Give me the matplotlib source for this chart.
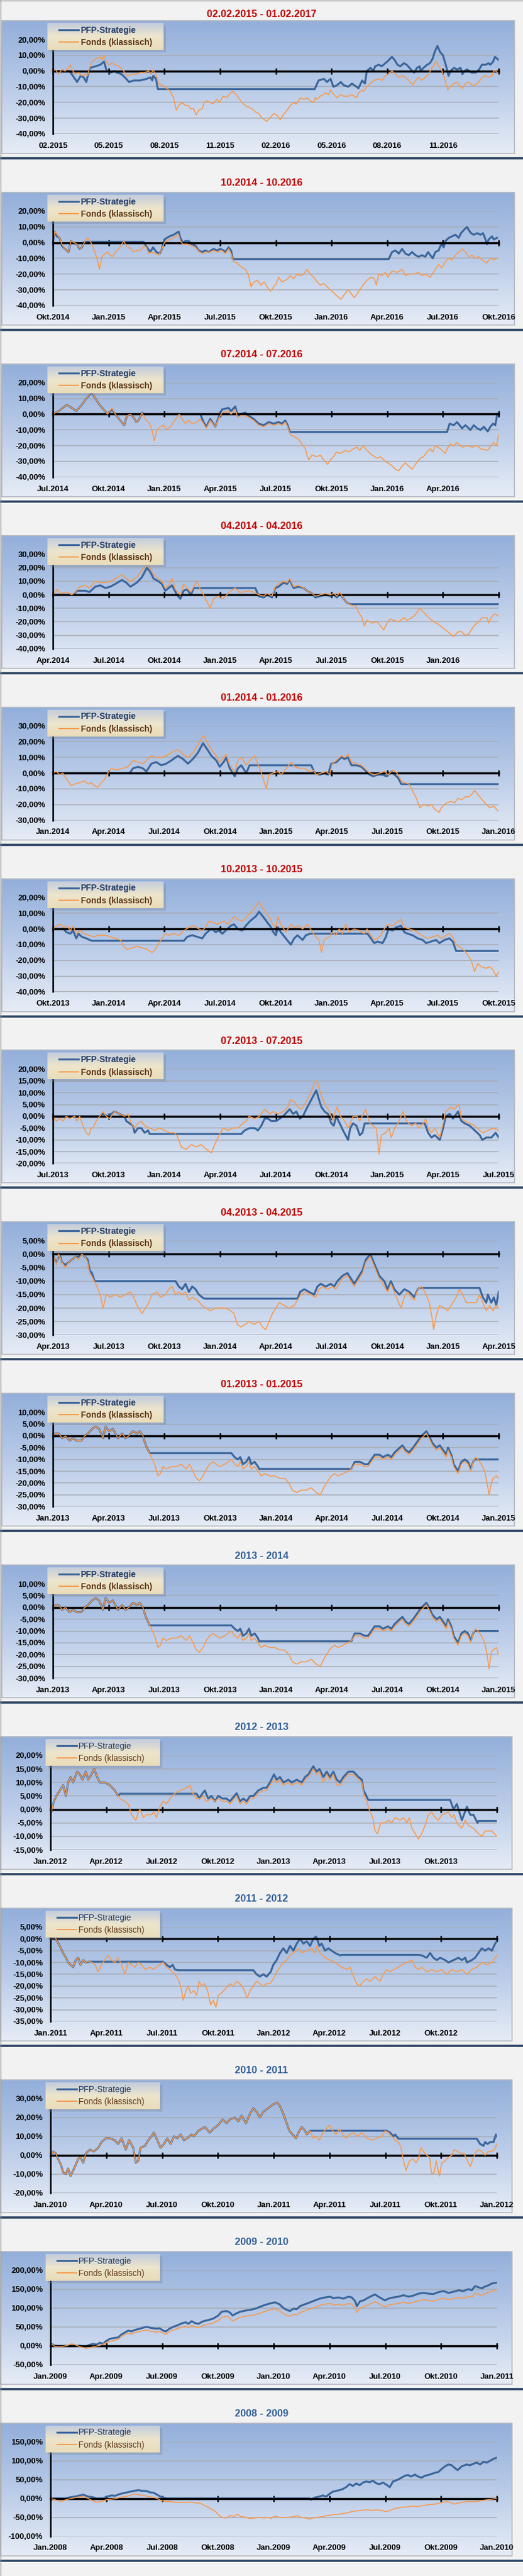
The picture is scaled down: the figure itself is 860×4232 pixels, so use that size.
import numpy as np
import matplotlib.pyplot as plt
from matplotlib.colors import to_rgb
from matplotlib.patches import Rectangle
from matplotlib.lines import Line2D

# ---- data: (month since start of window, performance in %) pairs ----
p01_pfp = [0,0, 0.9,0, 1.3,-7, 1.5,-3, 1.65,-4, 1.8,-7, 1.9,-2, 2.0,2, 2.3,3, 2.55,4, 2.75,6, 2.9,0, 3.1,-1, 3.3,0, 3.45,-1, 3.7,-2, 3.95,-5, 4.1,-7, 4.35,-6, 4.7,-6, 5.05,-5, 5.25,-4, 5.35,-6, 5.4,-3, 5.55,-5, 5.65,-11.5, 14.1,-11.5, 14.3,-6, 14.6,-5, 14.75,-7, 14.95,-5, 15.1,-10, 15.3,-9, 15.5,-7, 15.65,-9, 15.9,-10, 16.1,-8, 16.35,-10, 16.45,-11, 16.65,-6, 16.8,-8, 16.9,0, 17.1,2, 17.25,0, 17.35,3, 17.55,4, 17.7,3, 18.0,6, 18.25,9, 18.4,7, 18.55,4, 18.7,3, 18.9,5, 19.05,4, 19.35,0, 19.45,-1, 19.6,2, 19.75,3, 19.8,0, 19.95,2, 20.15,4, 20.3,5, 20.45,8, 20.55,12, 20.7,16, 20.85,12, 21.0,10, 21.15,4, 21.3,-3, 21.4,0, 21.6,2, 21.75,1, 21.95,2, 22.05,-2, 22.15,0, 22.3,1, 22.55,-1, 22.75,-1, 22.95,1, 23.1,4, 23.3,4, 23.45,5, 23.55,4, 23.7,6, 23.8,9, 23.9,8, 24.0,7]
p01_fonds = [0,0, 0.13,1, 0.31,-2, 0.48,1, 0.66,0, 0.84,2, 0.93,4, 1.08,0, 1.2,-2, 1.38,-1, 1.56,-3, 1.74,-2, 1.87,-3, 1.97,2, 2.1,6, 2.37,8, 2.55,9, 2.64,7, 2.76,10, 2.87,6, 3.0,4, 3.18,5, 3.36,4, 3.54,3, 3.66,2, 3.81,0, 3.99,-3, 4.25,-2, 4.52,-2, 4.7,-1, 4.92,-1, 5.15,0, 5.28,-2, 5.39,1, 5.48,-1, 5.57,-3, 5.69,-8, 5.87,-9, 6.01,-10, 6.23,-12, 6.32,-13, 6.5,-17, 6.64,-25, 6.77,-22, 6.95,-20, 7.13,-22, 7.31,-22, 7.4,-24, 7.58,-24, 7.72,-28, 7.85,-25, 8.03,-24, 8.15,-20, 8.29,-19, 8.47,-20, 8.62,-21, 8.83,-18, 8.98,-20, 9.16,-16, 9.37,-17, 9.55,-14, 9.69,-13, 9.87,-15, 10.0,-17, 10.18,-20, 10.36,-22, 10.54,-23, 10.72,-24, 10.9,-26, 11.08,-27, 11.26,-30, 11.53,-32, 11.67,-30, 11.89,-27, 12.06,-28, 12.24,-31, 12.39,-28, 12.6,-25, 12.78,-22, 12.96,-20, 13.11,-21, 13.32,-17, 13.5,-18, 13.68,-17, 13.86,-19, 14.04,-20, 14.13,-17, 14.22,-18, 14.4,-16, 14.67,-14, 14.85,-15, 14.94,-12, 15.12,-15, 15.3,-17, 15.48,-15, 15.66,-16, 15.92,-16, 16.1,-15, 16.34,-17, 16.46,-14, 16.64,-12, 16.73,-13, 16.91,-10, 17.09,-8, 17.27,-6, 17.54,-5, 17.72,-6, 17.9,-3, 18.26,0, 18.44,-2, 18.62,-4, 18.8,-3, 18.98,-4, 19.16,-6, 19.39,-9, 19.52,-6, 19.69,-4, 19.84,-6, 20.05,-4, 20.23,-2, 20.41,2, 20.65,6, 20.77,3, 20.95,0, 21.1,-5, 21.26,-12, 21.4,-10, 21.58,-8, 21.76,-7, 21.94,-10, 22.05,-11, 22.21,-8, 22.39,-7, 22.57,-9, 22.75,-9, 22.93,-7, 23.11,-4, 23.29,-3, 23.46,-4, 23.64,-3, 23.73,0, 23.86,0, 24.0,-2]

p02_pfp = [0,0, 0.09,7, 0.22,4, 0.36,3, 0.48,-2, 0.66,-4, 0.84,-6, 0.97,1, 1.11,0, 1.29,-1, 1.44,-4, 1.56,-3, 1.69,0.5, 4.88,0.5, 5.06,-3, 5.24,-6, 5.39,-3, 5.57,-6, 5.75,-7, 5.87,-4, 6.0,2, 6.14,3, 6.28,4, 6.5,5, 6.77,7, 6.86,3, 7.0,0, 7.13,1, 7.31,1, 7.49,-1, 7.67,-2, 7.85,-5, 8.03,-6, 8.2,-5, 8.38,-6, 8.65,-4, 8.83,-5, 9.01,-4, 9.19,-5, 9.28,-6, 9.46,-3, 9.59,-5, 9.69,-10.5, 18.08,-10.5, 18.26,-6, 18.44,-5, 18.62,-7, 18.8,-4, 18.98,-7, 19.16,-8, 19.34,-6, 19.52,-8, 19.69,-9, 19.87,-8, 20.05,-9, 20.2,-6, 20.32,-8, 20.45,-10, 20.59,-6, 20.77,-5, 20.9,-1, 21.04,-3, 21.13,1, 21.31,3, 21.49,4, 21.67,5, 21.85,3, 21.97,6, 22.12,8, 22.3,10, 22.39,8, 22.51,6, 22.66,5, 22.84,6, 23.02,5, 23.16,6, 23.29,2, 23.37,-1, 23.46,2, 23.64,4, 23.73,2, 23.91,3]
p02_fonds = [0,0, 0.09,7, 0.25,5, 0.36,3, 0.48,-1, 0.66,-4, 0.84,-6, 0.97,1, 1.15,0, 1.29,-1, 1.47,-4, 1.6,-2, 1.74,1, 1.87,3, 2.05,0, 2.23,-5, 2.37,-10, 2.5,-17, 2.64,-9, 2.82,-7, 2.94,-6, 3.09,-8, 3.21,-9, 3.36,-6, 3.54,-4, 3.66,-2, 3.81,1, 3.95,-2, 4.08,-3, 4.2,-4, 4.34,-6, 4.52,-5, 4.7,-5, 4.92,-2, 5.03,-3, 5.15,-7, 5.33,-6, 5.51,-7, 5.69,-8, 5.87,-4, 6.0,0, 6.14,1, 6.28,2, 6.5,3, 6.77,5, 6.86,1, 7.0,-1, 7.22,-1, 7.49,-2, 7.67,-3, 7.9,-6, 8.08,-7, 8.26,-6, 8.47,-6, 8.65,-5, 8.87,-6, 9.1,-5, 9.28,-7, 9.46,-4, 9.59,-7, 9.73,-12, 9.91,-13, 10.09,-15, 10.36,-17, 10.54,-21, 10.66,-28, 10.84,-25, 11.02,-24, 11.2,-27, 11.38,-25, 11.53,-28, 11.71,-31, 11.89,-28, 12.03,-26, 12.15,-22, 12.33,-25, 12.51,-24, 12.64,-23, 12.78,-21, 12.96,-23, 13.14,-20, 13.32,-21, 13.5,-20, 13.68,-17, 13.86,-20, 14.04,-22, 14.22,-25, 14.4,-27, 14.58,-26, 14.76,-28, 14.94,-30, 15.12,-32, 15.3,-34, 15.51,-36, 15.69,-33, 15.92,-30, 16.1,-33, 16.23,-35, 16.41,-32, 16.64,-28, 16.82,-25, 17.0,-23, 17.18,-22, 17.31,-23, 17.41,-27, 17.54,-20, 17.72,-21, 17.9,-19, 18.04,-22, 18.26,-18, 18.53,-19, 18.8,-17, 18.98,-21, 19.16,-20, 19.43,-20, 19.69,-19, 19.87,-21, 20.05,-20, 20.32,-22, 20.59,-17, 20.77,-14, 20.95,-16, 21.13,-12, 21.31,-10, 21.49,-11, 21.67,-8, 21.85,-6, 22.03,-4, 22.21,-6, 22.39,-9, 22.57,-8, 22.75,-10, 22.93,-9, 23.11,-11, 23.34,-13, 23.55,-10, 23.73,-11, 23.91,-10]

p03_pfp = [0,0, 0.31,2, 0.75,6, 1.02,4, 1.26,2, 1.56,6, 1.8,10, 2.1,14, 2.28,10, 2.51,6, 2.73,3, 2.94,0, 3.18,3, 3.36,0, 3.63,-4, 3.84,-7, 3.99,-1, 4.17,0, 4.34,-2, 4.49,-5, 4.61,-4, 4.79,1, 4.92,0, 7.94,0, 8.11,-5, 8.26,-8, 8.47,-3, 8.74,-8, 8.92,-2, 9.1,3, 9.46,4, 9.59,2, 9.82,5, 9.95,-1, 10.09,0, 10.36,1, 10.54,-1, 10.81,-3, 11.08,-6, 11.35,-7, 11.62,-5, 11.89,-6, 12.15,-5, 12.33,-6, 12.51,-4, 12.64,-7, 12.75,-11.3, 21.22,-11.3, 21.36,-6, 21.58,-7, 21.76,-5, 22.03,-9, 22.21,-7, 22.48,-10, 22.66,-7, 22.84,-9, 23.02,-10, 23.2,-8, 23.41,-11, 23.55,-8, 23.7,-6, 23.82,-7, 23.91,-1, 24.0,1]
p03_fonds = [0,0, 0.31,2, 0.75,6, 1.02,4, 1.26,2, 1.56,6, 1.8,10, 2.1,15, 2.28,10, 2.51,6, 2.73,3, 2.94,0, 3.18,4, 3.36,0, 3.63,-4, 3.84,-7, 3.99,-1, 4.17,0, 4.34,-2, 4.49,-5, 4.61,-4, 4.79,1, 4.97,-3, 5.21,-6, 5.33,-10, 5.46,-17, 5.6,-10, 5.78,-8, 5.96,-7, 6.1,-10, 6.32,-8, 6.5,-5, 6.68,-2, 6.8,0, 6.95,-3, 7.13,-6, 7.31,-4, 7.49,-6, 7.76,-5, 7.94,-3, 8.11,-6, 8.26,-9, 8.47,-4, 8.74,-8, 8.92,-3, 9.1,1, 9.46,2, 9.59,0, 9.82,3, 9.95,-2, 10.09,-1, 10.36,-1, 10.54,-2, 10.81,-4, 11.08,-7, 11.35,-8, 11.62,-6, 11.89,-7, 12.15,-6, 12.33,-7, 12.51,-5, 12.64,-8, 12.78,-13, 12.96,-14, 13.23,-16, 13.41,-19, 13.59,-22, 13.68,-26, 13.77,-29, 13.95,-26, 14.22,-27, 14.4,-26, 14.58,-29, 14.79,-32, 14.94,-29, 15.12,-27, 15.26,-24, 15.48,-25, 15.75,-23, 15.92,-24, 16.19,-22, 16.37,-21, 16.52,-23, 16.7,-20, 16.91,-23, 17.18,-26, 17.45,-28, 17.63,-27, 17.9,-30, 18.17,-32, 18.44,-35, 18.62,-36, 18.8,-33, 18.98,-31, 19.16,-33, 19.34,-35, 19.57,-31, 19.78,-28, 19.96,-27, 20.14,-24, 20.32,-22, 20.45,-24, 20.59,-20, 20.86,-22, 21.13,-25, 21.22,-22, 21.4,-19, 21.58,-20, 21.76,-18, 22.03,-21, 22.3,-20, 22.57,-21, 22.84,-20, 23.02,-22, 23.41,-23, 23.64,-19, 23.73,-18, 23.88,-20, 24.0,-13]

p04_pfp = [0,0, 1.11,0, 1.29,3, 1.74,3, 1.97,2, 2.28,6, 2.55,7, 2.82,5, 3.09,6, 3.36,8, 3.72,11, 3.95,9, 4.17,6, 4.52,9, 4.79,13, 5.06,20, 5.24,17, 5.42,12, 5.69,10, 5.87,8, 6.05,3, 6.23,5, 6.41,7, 6.68,0, 6.86,-3, 7.04,3, 7.22,4, 7.43,0, 7.58,5, 10.9,5, 11.08,-1, 11.35,-2, 11.53,0, 11.8,-2, 11.97,5, 12.15,6, 12.42,9, 12.6,8, 12.75,11, 12.96,5, 13.23,6, 13.5,5, 13.68,3, 13.95,1, 14.13,-2, 14.4,-1, 14.67,0, 14.94,-1, 15.12,0, 15.3,-2, 15.44,1, 15.66,-3, 15.83,-6, 16.01,-7, 24.0,-7]
p04_fonds = [0,0, 0.13,2, 0.22,4, 0.39,1, 0.75,2, 1.02,0, 1.2,2, 1.47,6, 1.74,7, 1.97,5, 2.28,10, 2.55,9, 2.82,9, 3.09,10, 3.36,12, 3.72,15, 3.95,12, 4.17,10, 4.52,13, 4.79,18, 5.06,24, 5.24,20, 5.42,15, 5.69,12, 5.87,10, 6.05,5, 6.23,7, 6.41,12, 6.59,4, 6.86,0, 7.04,8, 7.22,5, 7.43,2, 7.58,6, 7.76,10, 7.94,4, 8.11,0, 8.29,-5, 8.47,-10, 8.65,-3, 8.92,-1, 9.16,-3, 9.37,0, 9.55,3, 9.82,5, 10.0,2, 10.27,2, 10.54,3, 10.81,2, 11.08,0, 11.35,-1, 11.53,1, 11.8,-1, 11.97,6, 12.15,8, 12.42,10, 12.6,9, 12.75,12, 12.96,6, 13.23,7, 13.5,5, 13.68,3, 13.95,1, 14.13,-1, 14.4,0, 14.67,1, 14.94,0, 15.12,1, 15.3,-1, 15.44,2, 15.66,-3, 15.83,-6, 16.1,-8, 16.28,-8, 16.46,-13, 16.64,-17, 16.77,-23, 16.91,-19, 17.18,-21, 17.45,-20, 17.63,-23, 17.81,-26, 17.99,-21, 18.17,-18, 18.35,-19, 18.62,-20, 18.89,-17, 19.07,-19, 19.43,-16, 19.61,-13, 19.75,-10, 19.96,-13, 20.23,-17, 20.5,-20, 20.77,-22, 21.04,-25, 21.31,-28, 21.58,-31, 21.76,-28, 21.94,-27, 22.21,-30, 22.39,-29, 22.57,-25, 22.75,-22, 22.93,-20, 23.11,-17, 23.38,-17, 23.46,-21, 23.64,-16, 23.82,-14, 24.0,-16]

p05_pfp = [0,0, 4.13,0, 4.31,3, 4.58,4, 4.85,3, 5.03,1, 5.3,6, 5.57,7, 5.83,5, 6.1,6, 6.37,8, 6.73,11, 7.0,9, 7.27,6, 7.54,9, 7.81,13, 8.08,19, 8.26,16, 8.53,11, 8.8,8, 8.98,4, 9.19,7, 9.34,10, 9.52,3, 9.79,-2, 9.96,3, 10.14,5, 10.41,0, 10.59,5, 13.91,5, 14.09,0, 14.36,-1, 14.63,0, 14.81,-1, 14.99,6, 15.26,7, 15.53,10, 15.71,9, 15.89,10, 16.07,5, 16.34,5, 16.61,4, 16.79,2, 17.06,-1, 17.24,-2, 17.5,-1, 17.77,-1, 17.95,-2, 18.22,1, 18.4,-1, 18.58,-3, 18.76,-7, 24.0,-7]
p05_fonds = [0,0, 0.18,1, 0.36,-1, 0.54,0, 0.63,-2, 0.81,-5, 0.99,-8, 1.17,-7, 1.44,-6, 1.71,-5, 1.89,-7, 2.06,-6, 2.24,-8, 2.42,-9, 2.6,-6, 2.78,-4, 2.96,0, 3.14,3, 3.41,2, 3.77,3, 4.04,4, 4.31,8, 4.58,7, 4.85,6, 5.3,11, 5.57,10, 5.83,10, 6.1,11, 6.37,13, 6.73,15, 7.0,12, 7.27,10, 7.54,13, 7.81,18, 8.11,24, 8.29,20, 8.53,15, 8.8,11, 8.98,7, 9.19,10, 9.34,12, 9.52,5, 9.79,1, 9.96,8, 10.14,10, 10.41,5, 10.68,9, 10.86,11, 11.13,3, 11.31,-3, 11.49,-10, 11.63,-1, 11.85,0, 12.12,1, 12.3,-1, 12.57,3, 12.84,7, 13.02,4, 13.29,3, 13.55,3, 13.82,1, 14.0,2, 14.18,-1, 14.45,0, 14.72,1, 14.9,-1, 15.04,6, 15.26,8, 15.53,11, 15.71,10, 15.89,12, 16.07,7, 16.34,6, 16.61,5, 16.79,3, 17.06,0, 17.32,-1, 17.59,0, 17.86,1, 18.04,-1, 18.31,2, 18.53,0, 18.76,-5, 18.94,-6, 19.17,-7, 19.39,-12, 19.57,-16, 19.75,-22, 19.96,-20, 20.2,-21, 20.38,-20, 20.56,-23, 20.79,-25, 20.92,-22, 21.18,-19, 21.45,-18, 21.63,-19, 21.81,-16, 21.99,-17, 22.23,-15, 22.41,-15, 22.59,-13, 22.71,-11, 22.89,-14, 23.12,-17, 23.34,-20, 23.52,-22, 23.73,-21, 23.96,-24]

p06_pfp = [0,0, 0.58,0, 0.72,-2, 0.94,-3, 1.08,-1, 1.26,-6, 1.38,-3, 1.56,-5, 1.8,-6, 1.98,-7, 2.1,-7.5, 7.05,-7.5, 7.23,-5, 7.5,-4, 7.77,-5, 8.04,-6, 8.22,-3, 8.4,-1, 8.58,0, 8.76,-2, 8.94,-1, 9.12,-3, 9.3,-1, 9.57,2, 9.75,3, 9.96,0, 10.2,-1, 10.38,2, 10.61,5, 10.92,8, 11.1,11, 11.37,7, 11.55,4, 11.69,2, 11.87,-2, 12.0,-4, 12.12,1, 12.27,-2, 12.54,-6, 12.81,-10, 12.99,-6, 13.17,-4, 13.44,-7, 13.62,-4, 13.85,-3, 16.94,-3, 17.12,-6, 17.3,-9, 17.48,-8, 17.75,-9, 17.93,-5, 18.06,0, 18.29,-1, 18.47,1, 18.74,2, 18.92,-2, 19.1,-3, 19.37,-4, 19.64,-6, 19.91,-7, 20.09,-9, 20.36,-8, 20.63,-7, 20.81,-9, 21.08,-7, 21.35,-6, 21.53,-8, 21.71,-14, 24.0,-14]
p06_fonds = [0,0, 0.22,2, 0.4,3, 0.58,1, 0.76,2, 0.94,-1, 1.08,2, 1.26,-3, 1.47,-1, 1.65,-3, 1.92,-4, 2.19,-5, 2.46,-4, 2.82,-4, 3.09,-5, 3.36,-6, 3.63,-7, 3.81,-11, 3.99,-13, 4.26,-12, 4.53,-11, 4.8,-12, 5.07,-13, 5.34,-15, 5.52,-13, 5.7,-9, 5.88,-6, 6.06,-3, 6.24,-4, 6.51,-3, 6.78,-4, 7.05,-1, 7.32,1, 7.59,2, 7.86,0, 8.04,-1, 8.22,1, 8.4,5, 8.67,4, 8.85,3, 9.03,4, 9.21,5, 9.39,3, 9.57,5, 9.75,8, 9.96,6, 10.2,5, 10.38,7, 10.61,10, 10.83,13, 11.1,17, 11.37,12, 11.55,9, 11.69,7, 11.82,3, 12.0,1, 12.12,8, 12.27,3, 12.54,-2, 12.81,3, 12.99,1, 13.26,2, 13.44,0, 13.71,3, 13.97,-2, 14.15,-5, 14.33,-7, 14.46,-15, 14.6,-7, 14.87,-5, 15.05,-2, 15.23,-4, 15.41,0, 15.59,-3, 15.77,3, 15.95,-2, 16.22,0, 16.49,-1, 16.76,-3, 16.91,0, 17.12,-4, 17.3,-7, 17.48,-6, 17.66,-4, 17.84,0, 18.02,3, 18.29,2, 18.47,4, 18.74,6, 18.92,1, 19.19,0, 19.46,-1, 19.73,-3, 20.0,-5, 20.18,-6, 20.45,-5, 20.72,-4, 20.9,-6, 21.17,-4, 21.35,-3, 21.53,-5, 21.71,-10, 21.98,-12, 22.25,-15, 22.52,-20, 22.7,-27, 22.88,-22, 23.06,-24, 23.33,-25, 23.51,-24, 23.69,-26, 23.87,-30, 24.0,-27]

p07_pfp = [0,0, 2.51,0, 2.69,1, 2.96,0, 3.32,2, 3.59,1, 3.86,0, 3.95,-2, 4.13,-3, 4.31,-4, 4.4,-7, 4.58,-5, 4.76,-5, 4.94,-7, 5.12,-6, 5.21,-7.5, 10.14,-7.5, 10.32,-6, 10.59,-5, 10.86,-5, 11.04,-6, 11.22,-4, 11.4,-1, 11.58,-1, 11.76,-2, 12.03,-2, 12.21,-1, 12.39,0, 12.75,3, 12.93,1, 13.11,2, 13.29,-1, 13.46,0, 13.64,3, 13.91,7, 14.18,11, 14.33,7, 14.45,4, 14.63,2, 14.81,1, 14.99,-3, 15.12,-4, 15.26,0, 15.44,-3, 15.62,-6, 15.89,-10, 16.01,-5, 16.16,-3, 16.34,-4, 16.52,-8, 16.66,-7, 16.79,-3, 20.02,-3, 20.2,-7, 20.38,-9, 20.56,-8, 20.83,-10, 21.01,-5, 21.15,0, 21.36,1, 21.54,-1, 21.81,2, 21.99,-2, 22.17,-3, 22.44,-4, 22.71,-6, 22.98,-8, 23.12,-10, 23.34,-9, 23.61,-9, 23.84,-7, 24.0,-9]
p07_fonds = [0,0, 0.18,-2, 0.36,-1, 0.54,-2, 0.72,0, 0.9,-1, 1.17,0, 1.29,-2, 1.44,0, 1.62,-4, 1.8,-7, 1.94,-8, 2.06,-5, 2.15,-5, 2.33,-2, 2.51,0, 2.69,2, 2.87,0, 3.05,-1, 3.32,2, 3.59,1, 3.86,0, 4.04,1, 4.22,-3, 4.4,-5, 4.58,-3, 4.76,-2, 4.94,-4, 5.21,-5, 5.48,-6, 5.75,-5, 6.01,-6, 6.28,-7, 6.55,-7, 6.73,-9, 6.91,-13, 7.18,-14, 7.45,-12, 7.72,-13, 7.99,-12, 8.26,-14, 8.44,-15, 8.53,-15.5, 8.71,-12, 8.89,-9, 9.16,-5, 9.43,-6, 9.69,-5, 9.96,-5, 10.23,-3, 10.41,-2, 10.56,0, 10.86,-1, 11.13,0, 11.4,3, 11.67,1, 11.85,2, 12.12,1, 12.39,2, 12.66,4, 12.78,7, 13.02,6, 13.2,4, 13.38,3, 13.55,5, 13.82,9, 14.09,14, 14.22,15, 14.4,10, 14.54,7, 14.72,4, 14.9,2, 15.08,-2, 15.17,1, 15.3,4, 15.48,0, 15.71,-2, 15.89,-5, 16.01,-3, 16.16,0, 16.37,0, 16.52,-2, 16.84,3, 17.06,-3, 17.24,-4, 17.41,-5, 17.56,-16, 17.68,-8, 17.92,-7, 18.1,-5, 18.22,-9, 18.4,-5, 18.58,-3, 18.85,2, 19.03,-2, 19.3,-4, 19.53,-3, 19.71,-5, 19.93,-3, 20.07,-1, 20.2,-5, 20.38,-7, 20.56,-5, 20.83,-9, 21.01,-3, 21.15,2, 21.45,4, 21.58,3, 21.87,5, 21.99,-1, 22.17,-2, 22.44,-3, 22.71,-4, 22.98,-6, 23.16,-7, 23.43,-6, 23.7,-5, 24.0,-6]

p08_pfp = [0,0, 0.09,-2, 0.18,-3, 0.31,-1, 0.36,0, 0.49,-3, 0.67,-4, 0.85,-3, 1.03,-2, 1.21,-1, 1.38,-1, 1.56,0, 1.74,-1, 1.87,-2, 1.98,-6, 2.1,-7, 2.25,-10, 6.6,-10, 6.78,-12, 6.96,-13, 7.14,-11, 7.32,-14, 7.5,-12, 7.68,-13, 7.86,-15, 8.04,-16, 8.17,-16.5, 13.17,-16.5, 13.31,-14, 13.53,-13, 13.8,-14, 14.06,-15, 14.24,-12, 14.42,-11, 14.69,-12, 14.96,-11, 15.14,-12, 15.32,-10, 15.59,-8, 15.86,-7, 16.04,-9, 16.22,-11, 16.49,-8, 16.67,-6, 16.85,-2, 17.09,0, 17.21,-2, 17.39,-5, 17.57,-8, 17.84,-10, 18.02,-13, 18.2,-10, 18.38,-13, 18.65,-15, 18.92,-13, 19.19,-14, 19.46,-16, 19.64,-13, 19.73,-12.5, 22.97,-12.5, 23.15,-16, 23.33,-18, 23.42,-15, 23.6,-18, 23.74,-16, 23.87,-19, 24.0,-14]
p08_fonds = [0,0, 0.09,-2, 0.18,-4, 0.31,0, 0.49,-3, 0.67,-5, 0.85,-3, 1.03,-2, 1.21,-1, 1.38,-2, 1.56,0, 1.74,-1, 1.87,-3, 1.98,-7, 2.16,-9, 2.37,-12, 2.55,-15, 2.7,-20, 2.88,-15, 3.09,-16, 3.36,-15, 3.63,-16, 3.9,-15, 4.17,-14, 4.35,-16, 4.53,-19, 4.8,-22, 4.98,-20, 5.16,-18, 5.34,-15, 5.61,-14, 5.79,-16, 6.06,-15, 6.24,-13, 6.42,-12, 6.6,-15, 6.78,-14, 6.96,-15, 7.14,-14, 7.32,-17, 7.5,-16, 7.77,-17, 8.04,-19, 8.22,-20, 8.49,-21, 8.76,-20, 9.03,-20, 9.3,-20, 9.57,-21, 9.75,-22, 9.93,-26, 10.11,-27, 10.38,-26, 10.56,-25, 10.83,-26, 11.1,-25, 11.28,-27, 11.46,-28, 11.64,-25, 11.82,-22, 12.0,-20, 12.18,-18, 12.45,-19, 12.72,-20, 12.99,-19, 13.17,-17, 13.35,-15, 13.62,-14, 13.88,-15, 14.15,-16, 14.33,-13, 14.51,-12, 14.78,-13, 15.05,-12, 15.23,-13, 15.41,-11, 15.59,-9, 15.86,-8, 16.04,-10, 16.22,-12, 16.49,-9, 16.67,-7, 16.85,-3, 17.09,-1, 17.21,-3, 17.39,-6, 17.57,-9, 17.84,-12, 18.02,-14, 18.2,-11, 18.38,-14, 18.56,-17, 18.74,-20, 18.92,-16, 19.1,-14, 19.28,-16, 19.46,-17, 19.64,-13, 19.86,-12, 20.09,-15, 20.27,-18, 20.4,-23, 20.5,-28, 20.63,-23, 20.81,-19, 21.08,-20, 21.26,-21, 21.44,-19, 21.71,-16, 21.89,-13, 22.07,-15, 22.25,-18, 22.52,-18, 22.79,-18, 22.97,-15, 23.15,-18, 23.33,-21, 23.51,-19, 23.69,-21, 23.87,-19, 24.0,-20]

p09_pfp = [0,0, 0.14,1, 0.32,1, 0.5,-1, 0.68,0, 0.9,-2, 1.08,-1, 1.29,-2, 1.53,-2, 1.71,0, 1.89,1, 2.12,3, 2.3,4, 2.48,3, 2.6,1, 2.69,-1, 2.84,4, 3.02,2, 3.23,3, 3.5,-1, 3.73,1, 3.91,-1, 4.09,0, 4.31,2, 4.52,1, 4.67,2, 4.85,0, 4.96,-3, 5.06,-5, 5.21,-7.3, 9.61,-7.3, 9.78,-9, 9.96,-10, 10.09,-9, 10.23,-12, 10.41,-11, 10.56,-9, 10.68,-12, 10.86,-11, 11.04,-13, 11.1,-14, 16.07,-14, 16.25,-11, 16.52,-11, 16.79,-12, 16.97,-12, 17.15,-10, 17.32,-8, 17.59,-8, 17.77,-9, 18.04,-8, 18.22,-9, 18.4,-7, 18.67,-5, 18.82,-4, 18.99,-6, 19.17,-7, 19.39,-5, 19.57,-3, 19.84,0, 20.11,2, 20.25,0, 20.43,-3, 20.65,-5, 20.83,-4, 21.01,-6, 21.18,-8, 21.27,-5, 21.45,-8, 21.58,-12, 21.81,-15, 21.99,-11, 22.17,-10, 22.35,-11, 22.5,-14, 22.62,-11, 22.71,-10, 24.0,-10]
p09_fonds = [0,0, 0.14,1, 0.32,1, 0.5,-1, 0.68,0, 0.9,-2, 1.08,-1, 1.29,-2, 1.53,-2, 1.71,0, 1.89,1, 2.12,3, 2.3,4, 2.48,3, 2.6,1, 2.69,-1, 2.84,4, 3.02,2, 3.23,3, 3.5,-1, 3.73,1, 3.91,-1, 4.09,0, 4.31,2, 4.52,1, 4.67,2, 4.85,0, 4.96,-3, 5.06,-5, 5.3,-9, 5.48,-12, 5.66,-17, 5.78,-16, 5.92,-13, 6.1,-14, 6.37,-13, 6.64,-13, 6.91,-12, 7.18,-14, 7.36,-12, 7.54,-15, 7.72,-18, 7.9,-19, 8.08,-17, 8.26,-14, 8.44,-12, 8.62,-11, 8.8,-12, 8.98,-13, 9.25,-12, 9.43,-11, 9.61,-10, 9.78,-12, 9.96,-13, 10.09,-11, 10.23,-14, 10.41,-13, 10.56,-11, 10.68,-14, 10.86,-13, 11.04,-15, 11.22,-17, 11.4,-16, 11.67,-17, 11.94,-17, 12.21,-18, 12.48,-18, 12.71,-20, 12.89,-23, 13.11,-24, 13.38,-23, 13.64,-23, 13.91,-22, 14.18,-24, 14.4,-25, 14.58,-22, 14.81,-19, 14.99,-17, 15.17,-16, 15.35,-17, 15.62,-16, 15.89,-15, 16.07,-14, 16.25,-12, 16.52,-12, 16.79,-13, 16.97,-13, 17.15,-11, 17.32,-9, 17.59,-9, 17.77,-10, 18.04,-9, 18.22,-10, 18.4,-8, 18.67,-6, 18.82,-5, 18.99,-7, 19.17,-8, 19.39,-6, 19.57,-4, 19.84,-1, 20.11,1, 20.25,-1, 20.43,-4, 20.65,-6, 20.83,-5, 21.01,-7, 21.18,-9, 21.27,-6, 21.45,-9, 21.58,-13, 21.81,-16, 21.99,-12, 22.17,-11, 22.35,-12, 22.5,-15, 22.62,-11, 22.76,-9, 22.89,-10, 23.07,-12, 23.25,-15, 23.38,-20, 23.48,-25, 23.61,-20, 23.7,-18, 23.88,-17, 24.0,-18]

p10_pfp = [0,0, 0.14,1, 0.32,1, 0.5,-1, 0.68,0, 0.9,-2, 1.08,-1, 1.29,-2, 1.53,-2, 1.71,0, 1.89,1, 2.12,3, 2.3,4, 2.48,3, 2.6,1, 2.69,-1, 2.84,4, 3.02,2, 3.23,3, 3.5,-1, 3.73,1, 3.91,-1, 4.09,0, 4.31,2, 4.52,1, 4.67,2, 4.85,0, 4.96,-3, 5.06,-5, 5.21,-7.6, 9.61,-7.6, 9.78,-9, 9.96,-10, 10.09,-9, 10.23,-12, 10.41,-11, 10.56,-9, 10.68,-12, 10.86,-11, 11.04,-13, 11.1,-14.3, 16.07,-14.3, 16.25,-11, 16.52,-11, 16.79,-12, 16.97,-12, 17.15,-10, 17.32,-8, 17.59,-8, 17.77,-9, 18.04,-8, 18.22,-9, 18.4,-7, 18.67,-5, 18.82,-4, 18.99,-6, 19.17,-7, 19.39,-5, 19.57,-3, 19.84,0, 20.11,2, 20.25,0, 20.43,-3, 20.65,-5, 20.83,-4, 21.01,-6, 21.18,-8, 21.27,-5, 21.45,-8, 21.58,-12, 21.81,-15, 21.99,-11, 22.17,-10, 22.35,-11, 22.5,-14, 22.62,-11, 22.71,-10, 24.0,-10]
p10_fonds = [0,0, 0.14,1, 0.32,1, 0.5,-1, 0.68,0, 0.9,-2, 1.08,-1, 1.29,-2, 1.53,-2, 1.71,0, 1.89,1, 2.12,3, 2.3,4, 2.48,3, 2.6,1, 2.69,-1, 2.84,4, 3.02,2, 3.23,3, 3.5,-1, 3.73,1, 3.91,-1, 4.09,0, 4.31,2, 4.52,1, 4.67,2, 4.85,0, 4.96,-3, 5.06,-5, 5.3,-9, 5.48,-12, 5.66,-17, 5.78,-16, 5.92,-13, 6.1,-14, 6.37,-13, 6.64,-13, 6.91,-12, 7.18,-14, 7.36,-12, 7.54,-15, 7.72,-18, 7.9,-19, 8.08,-17, 8.26,-14, 8.44,-12, 8.62,-11, 8.8,-12, 8.98,-13, 9.25,-12, 9.43,-11, 9.61,-10, 9.78,-12, 9.96,-13, 10.09,-11, 10.23,-14, 10.41,-13, 10.56,-11, 10.68,-14, 10.86,-13, 11.04,-15, 11.22,-17, 11.4,-16, 11.67,-17, 11.94,-17, 12.21,-18, 12.48,-18, 12.71,-20, 12.89,-23, 13.11,-24, 13.38,-23, 13.64,-23, 13.91,-22, 14.18,-24, 14.4,-25, 14.58,-22, 14.81,-19, 14.99,-17, 15.17,-16, 15.35,-17, 15.62,-16, 15.89,-15, 16.07,-14, 16.25,-12, 16.52,-12, 16.79,-13, 16.97,-13, 17.15,-11, 17.32,-9, 17.59,-9, 17.77,-10, 18.04,-9, 18.22,-10, 18.4,-8, 18.67,-6, 18.82,-5, 18.99,-7, 19.17,-8, 19.39,-6, 19.57,-4, 19.84,-1, 20.11,1, 20.25,-1, 20.43,-4, 20.65,-6, 20.83,-5, 21.01,-7, 21.18,-9, 21.27,-6, 21.45,-9, 21.58,-13, 21.81,-16, 21.99,-12, 22.17,-11, 22.35,-12, 22.5,-15, 22.62,-11, 22.76,-9, 22.89,-10, 23.07,-12, 23.25,-15, 23.38,-20, 23.48,-26, 23.61,-19, 23.7,-18, 23.88,-17, 24.0,-20]

p11_pfp = [0,0, 0.05,-1, 0.18,3, 0.32,5, 0.5,7, 0.68,9, 0.83,5, 0.95,10, 1.08,12, 1.22,10, 1.43,14, 1.58,13, 1.72,11, 1.9,14, 2.03,11, 2.21,13, 2.35,15, 2.51,12, 2.65,10, 2.92,10, 3.19,9, 3.46,7, 3.64,5, 3.73,5.8, 7.86,5.8, 8.0,4, 8.18,6, 8.3,7, 8.48,4, 8.66,5, 8.84,3, 9.02,5, 9.26,4, 9.47,4, 9.65,3, 10.01,6, 10.19,3, 10.37,4, 10.55,3, 10.73,5, 10.91,5, 11.17,7, 11.44,8, 11.62,8, 11.8,10, 12.02,13, 12.16,11, 12.34,12, 12.52,10, 12.79,11, 12.97,10, 13.24,11, 13.51,10, 13.69,12, 13.87,13, 14.13,16, 14.31,14, 14.46,15, 14.67,12, 14.85,14, 15.03,12, 15.21,14, 15.39,11, 15.57,10, 15.75,12, 16.02,14, 16.29,14, 16.56,12, 16.74,11, 16.83,7, 16.91,6, 17.09,3.5, 21.49,3.5, 21.67,0, 21.85,2, 22.12,-4, 22.39,1, 22.57,-2, 22.74,-2, 22.96,-5, 23.01,-4.3, 24.0,-4.3]
p11_fonds = [0,0, 0.05,-1, 0.18,3, 0.32,5, 0.5,7, 0.68,9, 0.83,5, 0.95,10, 1.08,12, 1.22,10, 1.43,14, 1.58,13, 1.72,11, 1.9,14, 2.03,11, 2.21,13, 2.35,15, 2.51,12, 2.65,10, 2.92,10, 3.19,9, 3.46,7, 3.64,5, 3.73,4, 4.0,3, 4.18,2, 4.36,-2, 4.59,-4, 4.72,-1, 4.81,0, 4.99,-3, 5.17,-2, 5.43,-2, 5.56,-1, 5.7,-3, 5.88,1, 6.06,3, 6.24,2, 6.42,4, 6.69,6, 6.96,7, 7.32,8, 7.5,9, 7.64,6, 7.86,4, 8.04,4, 8.22,5, 8.39,3, 8.66,4, 8.84,3, 9.02,4, 9.26,3, 9.47,3, 9.65,2, 10.01,5, 10.19,2, 10.37,3, 10.55,2, 10.73,4, 10.91,4, 11.17,6, 11.44,7, 11.62,7, 11.8,9, 12.02,11, 12.16,10, 12.34,11, 12.52,9, 12.79,10, 12.97,9, 13.24,10, 13.51,9, 13.69,11, 13.87,12, 14.13,15, 14.31,13, 14.46,14, 14.67,10, 14.85,13, 15.03,11, 15.21,13, 15.39,9, 15.57,9, 15.75,11, 16.02,13, 16.29,13, 16.56,11, 16.74,10, 16.86,5, 17.0,3, 17.18,-1, 17.33,-3, 17.45,-8, 17.58,-9, 17.76,-5, 17.99,-5, 18.17,-4, 18.35,-5, 18.53,-3, 18.8,-4, 18.98,-3, 19.16,-5, 19.3,-3, 19.43,-7, 19.61,-9, 19.78,-11, 19.96,-9, 20.14,-6, 20.32,-2, 20.5,-1, 20.68,-3, 20.86,-4, 21.04,-2, 21.4,-1, 21.58,-3, 21.7,-2, 21.85,-5, 22.12,-7, 22.3,-4, 22.48,-6, 22.74,-7, 23.01,-9, 23.19,-10, 23.37,-8, 23.73,-8, 24.0,-10]

p12_pfp = [0,0, 0.11,1, 0.23,1, 0.36,-1, 0.5,-3, 0.68,-6, 0.83,-8, 0.95,-10, 1.08,-11, 1.22,-12, 1.36,-9, 1.49,-8, 1.61,-11, 1.76,-9, 1.9,-10, 2.03,-9.7, 6.06,-9.7, 6.24,-11, 6.42,-12, 6.57,-11, 6.69,-13, 6.87,-13.3, 10.91,-13.3, 11.08,-15, 11.26,-16, 11.44,-15, 11.62,-16, 11.84,-14, 11.98,-11, 12.16,-9, 12.34,-6, 12.52,-4, 12.7,-6, 12.88,-3, 13.06,-5, 13.24,-2, 13.42,0, 13.6,-2, 13.78,-1, 13.96,-3, 14.13,0, 14.28,1, 14.46,-3, 14.58,-2, 14.76,-5, 14.94,-4, 15.12,-5, 15.3,-6, 15.57,-7, 15.66,-6.8, 19.78,-6.8, 19.96,-7, 20.23,-8, 20.41,-6, 20.59,-8, 20.77,-9, 20.95,-8, 21.22,-9, 21.4,-10, 21.67,-9, 21.94,-8, 22.12,-9, 22.3,-8, 22.39,-10, 22.65,-9, 22.83,-8, 23.01,-6, 23.19,-4, 23.37,-5, 23.55,-4, 23.73,-5, 23.91,-2, 24.0,-1]
p12_fonds = [0,0, 0.11,1, 0.23,1, 0.36,-1, 0.5,-3, 0.68,-6, 0.83,-8, 0.95,-10, 1.08,-11, 1.22,-12, 1.36,-9, 1.49,-8, 1.61,-11, 1.76,-9, 1.9,-10, 2.03,-9.5, 2.21,-10, 2.39,-11, 2.57,-14, 2.74,-11, 2.92,-9, 3.1,-7, 3.28,-9, 3.46,-10, 3.64,-8, 3.82,-11, 4.0,-15, 4.18,-10, 4.36,-11, 4.54,-12, 4.72,-10, 4.9,-11, 5.08,-13, 5.35,-12, 5.52,-13, 5.7,-12, 5.88,-11, 6.06,-10, 6.24,-12, 6.42,-13, 6.69,-15, 6.78,-16, 6.92,-18, 7.05,-22, 7.14,-26, 7.28,-22, 7.41,-20, 7.53,-23, 7.71,-22, 7.86,-24, 8.0,-18, 8.13,-20, 8.3,-19, 8.48,-23, 8.61,-28, 8.75,-26, 8.9,-29, 9.02,-24, 9.2,-23, 9.43,-21, 9.65,-19, 9.83,-20, 10.01,-18, 10.19,-19, 10.37,-21, 10.58,-25, 10.73,-22, 10.91,-20, 11.08,-18, 11.26,-19, 11.44,-20, 11.62,-19, 11.8,-19, 11.98,-17, 12.16,-14, 12.34,-12, 12.52,-10, 12.7,-9, 12.88,-7, 13.06,-6, 13.33,-4, 13.51,-6, 13.78,-5, 14.04,-4, 14.22,-6, 14.31,-3, 14.49,-6, 14.76,-8, 15.03,-9, 15.3,-10, 15.48,-11, 15.66,-12, 15.93,-13, 16.11,-12, 16.29,-16, 16.47,-19, 16.61,-20, 16.83,-18, 17.0,-17, 17.18,-18, 17.45,-16, 17.72,-18, 17.9,-15, 18.08,-13, 18.26,-14, 18.44,-13, 18.71,-12, 18.89,-11, 19.16,-10, 19.43,-9, 19.61,-12, 19.78,-13, 19.96,-12, 20.23,-14, 20.5,-13, 20.77,-14, 21.04,-13, 21.31,-15, 21.58,-13, 21.85,-14, 22.12,-13, 22.39,-15, 22.65,-13, 22.92,-12, 23.19,-10, 23.46,-11, 23.73,-10, 23.91,-8, 24.0,-7]

p13_pfp = [0,0, 0.14,2, 0.29,1, 0.41,-2, 0.56,-5, 0.68,-9, 0.83,-10, 0.95,-7, 1.08,-11, 1.22,-8, 1.36,-5, 1.49,-2, 1.61,-1, 1.76,-4, 1.9,1, 2.12,3, 2.33,2, 2.57,4, 2.74,7, 2.98,9, 3.19,9, 3.46,8, 3.64,6, 3.82,9, 4.05,3, 4.23,8, 4.45,4, 4.59,-4, 4.72,-3, 4.84,4, 5.08,5, 5.26,8, 5.43,10, 5.56,12, 5.74,8, 5.92,4, 6.1,6, 6.28,9, 6.46,6, 6.64,10, 6.82,9, 7.0,11, 7.17,8, 7.35,9, 7.59,11, 7.71,10, 7.95,13, 8.13,14, 8.3,15, 8.57,12, 8.75,14, 9.02,16, 9.26,19, 9.47,17, 9.65,19, 9.92,20, 10.1,18, 10.28,21, 10.51,17, 10.73,22, 10.91,25, 11.08,23, 11.26,20, 11.44,23, 11.71,25, 11.98,27, 12.2,28, 12.34,26, 12.52,22, 12.7,17, 12.84,13, 13.02,11, 13.2,9, 13.33,12, 13.51,15, 13.69,13, 13.78,11, 13.96,13, 18.08,13, 18.26,12, 18.44,10, 18.53,11, 18.71,8.8, 22.92,8.8, 23.1,6, 23.28,5, 23.37,7, 23.5,6, 23.64,7, 23.82,7, 23.95,11, 24.0,10]
p13_fonds = [0,0, 0.14,2, 0.29,1, 0.41,-2, 0.56,-5, 0.68,-9, 0.83,-10, 0.95,-7, 1.08,-11, 1.22,-8, 1.36,-5, 1.49,-2, 1.61,-1, 1.76,-4, 1.9,1, 2.12,3, 2.33,2, 2.57,4, 2.74,7, 2.98,9, 3.19,9, 3.46,8, 3.64,6, 3.82,9, 4.05,3, 4.23,8, 4.45,4, 4.59,-4, 4.72,-3, 4.84,4, 5.08,5, 5.26,8, 5.43,10, 5.56,12, 5.74,8, 5.92,4, 6.1,6, 6.28,9, 6.46,6, 6.64,10, 6.82,9, 7.0,11, 7.17,8, 7.35,9, 7.59,11, 7.71,10, 7.95,13, 8.13,14, 8.3,15, 8.57,12, 8.75,14, 9.02,16, 9.26,19, 9.47,17, 9.65,19, 9.92,20, 10.1,18, 10.28,21, 10.51,17, 10.73,22, 10.91,25, 11.08,23, 11.26,20, 11.44,23, 11.71,25, 11.98,27, 12.2,28, 12.34,26, 12.52,22, 12.7,17, 12.84,13, 13.02,11, 13.2,9, 13.33,12, 13.51,15, 13.69,13, 13.78,11, 13.96,13, 14.13,9, 14.28,10, 14.46,8, 14.64,12, 14.82,14, 15.0,16, 15.17,13, 15.35,11, 15.53,14, 15.71,11, 15.89,9, 16.07,11, 16.29,12, 16.47,10, 16.74,12, 17.0,9, 17.27,8, 17.54,9, 17.81,10, 17.99,13, 18.17,12, 18.35,10, 18.53,8, 18.71,7, 18.85,4, 18.98,-3, 19.12,-8, 19.3,-3, 19.48,-2, 19.66,-4, 19.78,-2, 19.91,4, 20.05,2, 20.23,0, 20.38,-1, 20.5,-10, 20.63,-9, 20.74,-3, 20.91,-11, 21.04,-4, 21.22,-3, 21.4,-1, 21.58,0, 21.7,3, 21.88,2, 22.06,1, 22.24,1, 22.42,-3, 22.57,-6, 22.71,-2, 22.89,2, 23.01,3, 23.19,2, 23.37,0, 23.55,2, 23.73,2, 23.87,3, 24.0,6]

p14_pfp = [0,0, 0.05,5, 0.23,0, 0.59,-1, 0.86,0, 1.58,0, 1.85,-3, 2.08,2, 2.3,5, 2.48,3, 2.65,8, 2.83,5, 2.98,12, 3.19,18, 3.37,20, 3.64,22, 3.82,30, 4.0,35, 4.18,40, 4.36,38, 4.54,42, 4.81,45, 4.99,48, 5.17,50, 5.43,47, 5.7,45, 5.88,46, 6.06,40, 6.21,38, 6.39,45, 6.6,50, 6.87,55, 7.1,60, 7.28,62, 7.41,58, 7.59,65, 7.77,60, 7.95,58, 8.22,65, 8.48,68, 8.75,72, 9.02,80, 9.2,90, 9.47,92, 9.65,88, 9.79,80, 9.97,85, 10.19,90, 10.46,93, 10.73,95, 11.0,98, 11.26,103, 11.53,108, 11.8,112, 12.07,115, 12.31,110, 12.52,100, 12.7,95, 12.88,92, 13.06,98, 13.24,97, 13.42,105, 13.69,110, 13.96,115, 14.22,120, 14.49,125, 14.76,128, 15.03,130, 15.21,126, 15.48,128, 15.75,125, 16.02,130, 16.2,128, 16.38,118, 16.47,105, 16.65,118, 16.83,120, 17.0,125, 17.27,132, 17.45,136, 17.63,130, 17.81,125, 17.99,120, 18.17,125, 18.44,128, 18.71,130, 18.98,134, 19.25,130, 19.52,133, 19.78,138, 20.05,140, 20.32,138, 20.59,137, 20.86,142, 21.13,145, 21.4,140, 21.67,143, 21.94,147, 22.21,145, 22.48,150, 22.65,147, 22.83,158, 23.01,155, 23.19,152, 23.37,157, 23.55,160, 23.73,165, 24.0,167]
p14_fonds = [0,0, 0.05,5, 0.23,-2, 0.5,-3, 0.86,0, 1.13,5, 1.31,3, 1.58,-3, 1.85,-6, 1.97,-7, 2.21,-4, 2.39,-2, 2.65,1, 2.87,5, 3.1,10, 3.37,13, 3.64,17, 3.82,25, 4.0,30, 4.18,33, 4.36,31, 4.54,35, 4.81,38, 4.99,40, 5.17,42, 5.43,38, 5.7,36, 5.88,38, 6.06,33, 6.21,30, 6.39,37, 6.6,42, 6.87,46, 7.1,50, 7.28,52, 7.41,48, 7.59,54, 7.77,50, 7.95,48, 8.22,54, 8.48,57, 8.75,60, 9.02,67, 9.2,75, 9.47,78, 9.65,73, 9.79,65, 9.97,70, 10.19,75, 10.46,78, 10.73,80, 11.0,82, 11.26,86, 11.53,91, 11.8,95, 12.07,98, 12.31,93, 12.52,85, 12.7,80, 12.88,78, 13.06,83, 13.24,82, 13.42,88, 13.69,93, 13.96,97, 14.22,102, 14.49,107, 14.76,110, 15.03,112, 15.21,108, 15.48,110, 15.75,107, 16.02,112, 16.2,110, 16.38,100, 16.47,88, 16.65,100, 16.83,103, 17.0,107, 17.27,113, 17.45,117, 17.63,112, 17.81,107, 17.99,103, 18.17,108, 18.44,110, 18.71,112, 18.98,115, 19.25,112, 19.52,115, 19.78,119, 20.05,122, 20.32,120, 20.59,118, 20.86,123, 21.13,126, 21.4,122, 21.67,125, 21.94,128, 22.21,126, 22.48,131, 22.65,129, 22.83,139, 23.01,136, 23.19,133, 23.37,138, 23.55,141, 23.73,145, 24.0,148]

p15_pfp = [0,0, 0.77,0, 1.04,3, 1.31,5, 1.58,8, 1.76,10, 2.03,5, 2.3,3, 2.48,0, 2.84,0, 3.02,5, 3.29,8, 3.47,7, 3.75,12, 4.02,15, 4.29,18, 4.47,20, 4.74,22, 4.92,20, 5.15,20, 5.37,16, 5.55,15, 5.73,10, 5.91,5, 6.09,2, 6.27,0, 13.92,0, 14.01,-3, 14.19,2, 14.46,5, 14.64,8, 14.82,5, 15.0,12, 15.18,18, 15.36,20, 15.54,22, 15.72,25, 15.9,30, 16.08,38, 16.26,33, 16.44,40, 16.62,35, 16.8,42, 16.98,45, 17.16,43, 17.34,47, 17.52,40, 17.7,38, 17.88,42, 18.11,35, 18.24,30, 18.42,45, 18.69,50, 18.87,55, 19.05,60, 19.23,62, 19.37,58, 19.59,63, 19.77,58, 19.95,55, 20.13,60, 20.31,62, 20.49,65, 20.67,68, 20.85,70, 21.03,78, 21.21,85, 21.39,90, 21.57,88, 21.71,82, 21.89,75, 22.11,85, 22.38,90, 22.56,88, 22.74,92, 22.92,95, 23.1,90, 23.28,97, 23.46,95, 23.64,100, 23.82,105, 24.0,108]
p15_fonds = [0,0, 0.32,-5, 0.59,-8, 0.86,-3, 1.13,0, 1.4,3, 1.67,5, 1.94,2, 2.21,-5, 2.48,-10, 2.75,-8, 3.02,-3, 3.29,-2, 3.47,-1, 3.75,3, 4.02,5, 4.29,8, 4.47,12, 4.74,10, 5.01,8, 5.28,5, 5.55,3, 5.73,0, 5.91,-5, 6.18,-8, 6.45,-8, 6.72,-10, 6.99,-10, 7.26,-11, 7.53,-9, 7.8,-12, 8.03,-12, 8.25,-18, 8.43,-22, 8.7,-30, 8.88,-35, 9.06,-45, 9.24,-50, 9.42,-52, 9.69,-45, 9.87,-48, 10.05,-42, 10.23,-48, 10.5,-50, 10.68,-53, 10.95,-52, 11.22,-50, 11.49,-52, 11.67,-50, 11.85,-53, 12.06,-47, 12.3,-50, 12.57,-51, 12.84,-50, 13.11,-48, 13.25,-45, 13.47,-50, 13.74,-52, 13.92,-55, 14.1,-52, 14.37,-50, 14.64,-48, 14.91,-45, 15.18,-43, 15.45,-42, 15.72,-40, 15.99,-38, 16.17,-35, 16.44,-33, 16.71,-32, 16.98,-30, 17.25,-32, 17.52,-30, 17.79,-32, 18.06,-35, 18.24,-32, 18.42,-28, 18.69,-25, 18.96,-23, 19.23,-22, 19.5,-20, 19.68,-22, 19.86,-20, 20.13,-18, 20.4,-16, 20.67,-15, 20.94,-12, 21.12,-10, 21.3,-8, 21.48,-10, 21.71,-15, 21.93,-12, 22.2,-10, 22.47,-8, 22.74,-9, 23.01,-7, 23.28,-5, 23.55,-3, 23.73,-2, 24.0,0]

# window titles, y ranges (min, max, step) and quarterly x labels
titles = ['02.02.2015 - 01.02.2017', '10.2014 - 10.2016', '07.2014 - 07.2016', '04.2014 - 04.2016',
          '01.2014 - 01.2016', '10.2013 - 10.2015', '07.2013 - 07.2015', '04.2013 - 04.2015',
          '01.2013 - 01.2015', '2013 - 2014', '2012 - 2013', '2011 - 2012', '2010 - 2011',
          '2009 - 2010', '2008 - 2009']
y_ranges = [(-40, 20, 10), (-40, 20, 10), (-40, 20, 10), (-40, 30, 10), (-30, 30, 10),
            (-40, 20, 10), (-20, 20, 5), (-30, 5, 5), (-30, 10, 5), (-30, 10, 5),
            (-15, 20, 5), (-35, 5, 5), (-20, 30, 10), (-50, 200, 50), (-100, 150, 50)]
# (first year, first month, number of labels)
x_starts = [(2015, 2, 8), (2014, 10, 9), (2014, 7, 8), (2014, 4, 8), (2014, 1, 9), (2013, 10, 9),
            (2013, 7, 9), (2013, 4, 9), (2013, 1, 9), (2013, 1, 9), (2012, 1, 8), (2011, 1, 8),
            (2010, 1, 9), (2009, 1, 9), (2008, 1, 9)]
series = [(p01_pfp, p01_fonds), (p02_pfp, p02_fonds), (p03_pfp, p03_fonds), (p04_pfp, p04_fonds),
          (p05_pfp, p05_fonds), (p06_pfp, p06_fonds), (p07_pfp, p07_fonds), (p08_pfp, p08_fonds),
          (p09_pfp, p09_fonds), (p10_pfp, p10_fonds), (p11_pfp, p11_fonds), (p12_pfp, p12_fonds),
          (p13_pfp, p13_fonds), (p14_pfp, p14_fonds), (p15_pfp, p15_fonds)]

MON = {1: 'Jan.', 4: 'Apr.', 7: 'Jul.', 10: 'Okt.'}
FONT = ['Liberation Sans', 'DejaVu Sans']
PFP_COL = '#3b669b'
FONDS_COL = '#f79a4c'
W, H = 860, 4232
PITCH = 281.9


def quarter_labels(year, month, n, numeric):
    out = []
    for i in range(n):
        m = month + 3 * i
        y = year + (m - 1) // 12
        m = (m - 1) % 12 + 1
        out.append(f'{m:02d}.{y}' if numeric else f'{MON[m]}{y}')
    return out


def pct(v):
    return f'{v:.2f}'.replace('.', ',') + '%'


def gradient(ax, x0, x1, ytop, ybot, colors, z):
    stops = np.linspace(0, 1, len(colors))
    t = np.linspace(0, 1, 80)
    rgb = np.array([to_rgb(c) for c in colors])
    img = np.stack([np.interp(t, stops, rgb[:, i]) for i in range(3)], axis=-1)[:, None, :]
    ax.imshow(img, extent=(x0, x1, ybot, ytop), aspect='auto', interpolation='bilinear', zorder=z)


fig = plt.figure(figsize=(W / 100, H / 100), dpi=100)
fig.patch.set_facecolor('#f2f2f2')
bg = fig.add_axes([0, 0, 1, 1])
bg.axis('off')

for k in range(15):
    sep = 260 + PITCH * k
    narrow = k >= 10
    box_l, box_r = (1, 842) if narrow else (3, 846)
    pl, pr = (83, 817) if narrow else (87, 820)

    # chart area with blue gradient
    gradient(bg, box_l, box_r, sep - 226, sep - 8, ['#93afda', '#b9cbe8', '#e6ecf6'], 1)
    bg.add_patch(Rectangle((box_l, sep - 226), box_r - box_l, 218, fill=False,
                           ec='#b3b8c0', lw=1.2, zorder=2))
    bg.plot([0, W], [sep, sep], color='#2b4462', lw=2.6, zorder=2, solid_capstyle='butt')
    ty = 24 if k == 0 else sep - 241
    bg.text(430, ty, titles[k], ha='center', va='center', fontsize=12, fontweight='bold',
            family=FONT, color='#c00000' if k < 9 else '#33609a', zorder=3)

    # plot area
    ax = fig.add_axes([pl / W, 1 - (sep - 40) / H, (pr - pl) / W, 155 / H])
    ax.patch.set_alpha(0)
    ymin, ymax, step = y_ranges[k]
    pfp = np.array(series[k][0], dtype=float).reshape(-1, 2)
    fonds = np.array(series[k][1], dtype=float).reshape(-1, 2)
    l1, = ax.plot(pfp[:, 0], pfp[:, 1], color=PFP_COL, lw=2.3, zorder=2, solid_joinstyle='round')
    l2, = ax.plot(fonds[:, 0], fonds[:, 1], color=FONDS_COL, lw=1.2, zorder=2.2)
    ax.set_xlim(0, 24)
    ax.set_ylim(ymin, ymax)
    yt = np.arange(ymin, ymax + step / 2, step)
    ax.set_yticks(yt)
    ax.set_yticklabels([pct(v) for v in yt], fontsize=9.5, fontweight='bold', family=FONT)
    ax.tick_params(axis='y', length=0, pad=9)
    ax.grid(axis='y', color='#a7abb3', lw=1.1)
    ax.set_axisbelow(True)
    for s in ('top', 'right'):
        ax.spines[s].set_visible(False)
    ax.spines['left'].set_color('k')
    ax.spines['left'].set_linewidth(1.9)
    ax.spines['bottom'].set_position(('data', 0))
    ax.spines['bottom'].set_color('k')
    ax.spines['bottom'].set_linewidth(2.5)
    ax.spines['bottom'].set_zorder(2.1)
    ticks = np.arange(0, 25, 3)
    ax.set_xticks(ticks)
    ax.tick_params(axis='x', direction='inout', length=7, width=1.8, color='k', labelbottom=False)

    yr, mo, n = x_starts[k]
    labels = quarter_labels(yr, mo, n, numeric=(k == 0))
    sec = ax.secondary_xaxis(0)
    sec.set_xticks(ticks[:n], labels=labels)
    sec.tick_params(length=0, pad=10, labelsize=9.5)
    for t in sec.get_xticklabels():
        t.set_fontweight('bold')
        t.set_family(FONT)
    sec.spines['bottom'].set_visible(False)

    # legend with cream gradient and soft shadow
    lg_l, lg_r = (75, 263) if narrow else (78, 269)
    lg_t, lg_b = sep - 222, sep - 178
    fig.add_artist(Rectangle(((lg_l + 4) / W, 1 - (lg_b + 4) / H), (lg_r - lg_l) / W, (lg_b - lg_t) / H,
                             transform=fig.transFigure, fc='#7d8696', ec='none', alpha=0.35, zorder=3))
    lax = fig.add_axes([lg_l / W, 1 - lg_b / H, (lg_r - lg_l) / W, (lg_b - lg_t) / H], zorder=4)
    lax.set_xlim(0, 1)
    lax.set_ylim(1, 0)
    gradient(lax, 0, 1, 0, 1, ['#c3cddd', '#ede5cc', '#e9dcb9'], 1)
    lax.set_xlim(0, 1)
    lax.set_ylim(1, 0)
    lax.axis('off')
    wt = 'normal' if narrow else 'bold'
    leg = lax.legend([Line2D([], [], color=PFP_COL, lw=2.3), Line2D([], [], color=FONDS_COL, lw=1.4)],
                     ['PFP-Strategie', 'Fonds (klassisch)'], loc='center left',
                     bbox_to_anchor=(0.1, 0.5), frameon=False, borderaxespad=0, borderpad=0,
                     handlelength=2.3, handletextpad=0.25, labelspacing=0.45,
                     prop={'family': FONT, 'size': 10, 'weight': wt})
    leg.get_texts()[0].set_color('#1f3864')
    leg.get_texts()[1].set_color('#5b3312')

bg.plot([0.5, 0.5], [0, H], color='#9a9a9a', lw=1, zorder=3)
bg.plot([0, W], [0.5, 0.5], color='#9a9a9a', lw=1, zorder=3)
bg.set_xlim(0, W)
bg.set_ylim(H, 0)

fig.savefig('out.png', dpi=100, facecolor=fig.get_facecolor())
